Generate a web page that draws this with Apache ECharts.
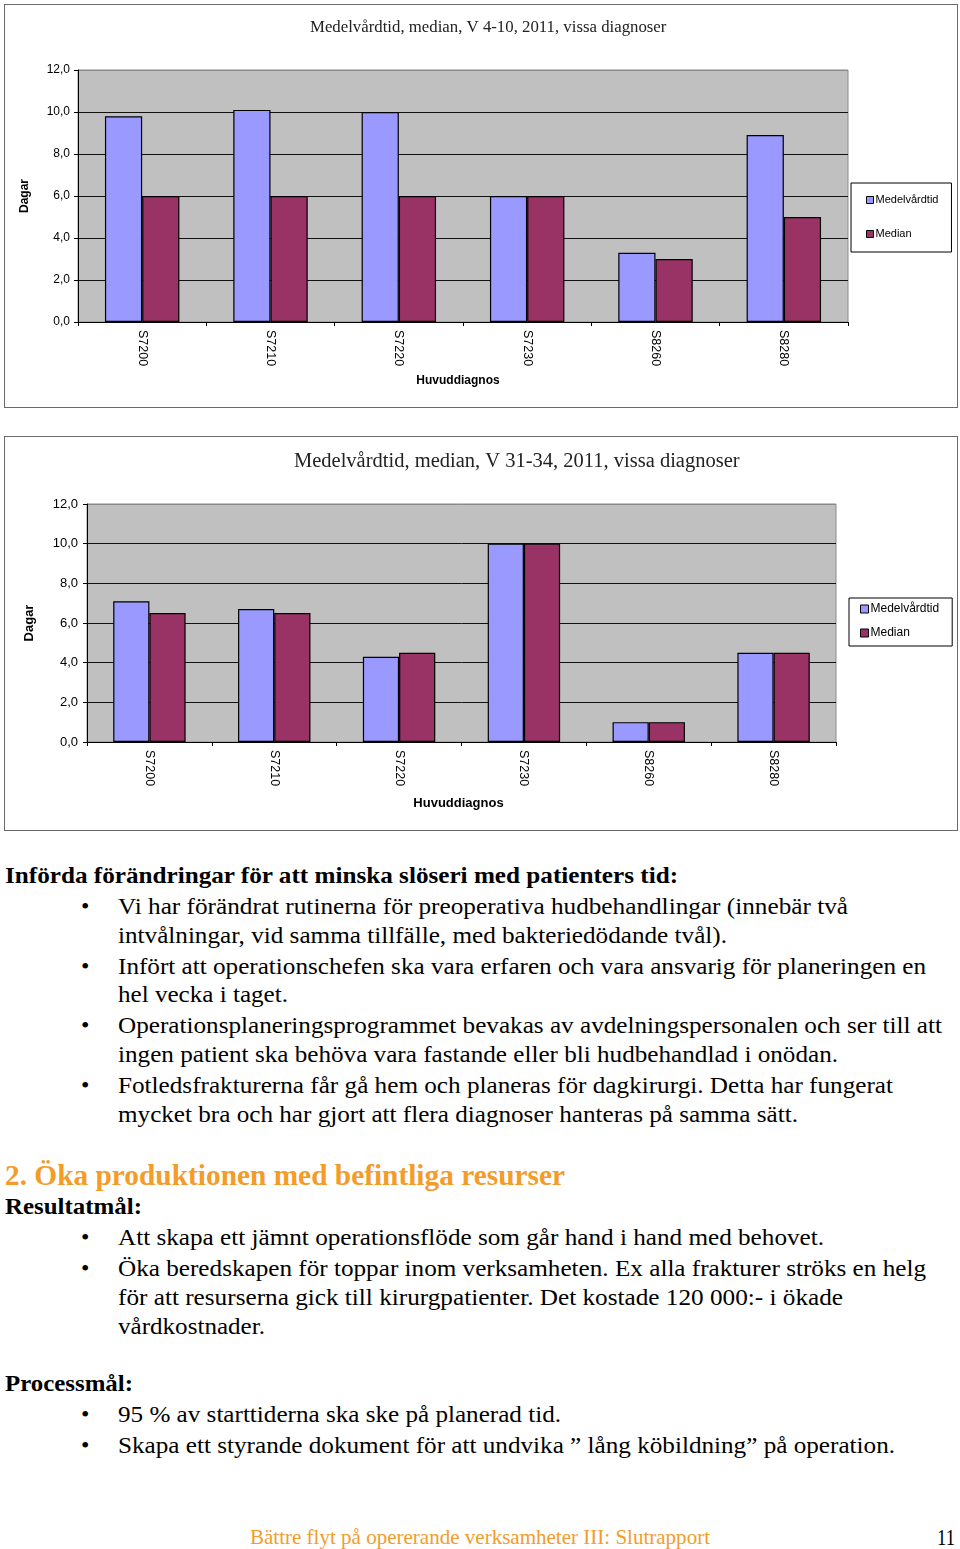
<!DOCTYPE html>
<html><head><meta charset="utf-8">
<script src="https://cdn.jsdelivr.net/npm/echarts@6/dist/echarts.min.js"></script>
<style>
html,body{margin:0;padding:0;background:#fff;}
body{width:960px;height:1549px;position:relative;overflow:hidden;font-family:"Liberation Serif","Times New Roman",serif;}
.box{position:absolute;border:1px solid #6a6a6a;box-sizing:border-box;}
.chart{position:absolute;left:0;width:960px;}
.ln{position:absolute;white-space:nowrap;font-size:24px;line-height:30px;height:30px;transform-origin:0 50%;color:#000;}
.bul{position:absolute;font-size:24px;line-height:30px;height:30px;}
</style></head><body>
<div class="box" style="left:4px;top:4px;width:954px;height:404px;"></div>
<div class="box" style="left:4px;top:436px;width:954px;height:395px;"></div>
<div id="c1" class="chart" style="top:0;height:415px;"></div>
<div id="c2" class="chart" style="top:430px;height:410px;"></div>
<div id="txt"></div>
<script>
// ---- data ----
const categories = ['S7200','S7210','S7220','S7230','S8260','S8280'];
const seriesNames = ['Medelvårdtid','Median'];
const medel1 = [9.8, 10.1, 10.0, 6.0, 3.3, 8.9];
const median1 = [6.0, 6.0, 6.0, 6.0, 3.0, 5.0];
const medel2 = [7.1, 6.7, 4.3, 10.0, 1.0, 4.5];
const median2 = [6.5, 6.5, 4.5, 10.0, 1.0, 4.5];
const title1 = 'Medelvårdtid, median, V 4-10, 2011, vissa diagnoser';
const title2 = 'Medelvårdtid, median, V 31-34, 2011, vissa diagnoser';
const yName = 'Dagar';
const xName = 'Huvuddiagnos';

// ---- charts ----
function makeOption(c, medel, median) {
  return {
    animation: false,
    title: { text: c.title, left: c.titleLeft, top: c.titleTop,
      textStyle: { fontFamily: 'Liberation Serif', fontWeight: 'normal', fontSize: c.titleSize, color: '#222' } },
    legend: {
      orient: 'vertical', left: c.legLeft, top: c.legTop,
      padding: c.legPad, itemGap: c.legGap, itemWidth: c.legIcon, itemHeight: c.legIcon,
      backgroundColor: '#fff', borderColor: '#000', borderWidth: 1, icon: 'rect',
      itemStyle: { borderColor: '#000', borderWidth: 1 },
      textStyle: { fontFamily: 'Liberation Sans', fontSize: c.legFont, color: '#000', padding: [0,0,0,-3], lineHeight: 14 },
      data: seriesNames
    },
    grid: { left: c.gl, top: c.gt, right: c.gr, bottom: c.gb, show: true,
      backgroundColor: '#c0c0c0', borderColor: '#8a8a8a', borderWidth: 1 },
    xAxis: {
      type: 'category', data: categories, name: xName, nameLocation: 'middle', nameGap: c.xNameGap,
      nameTextStyle: { fontFamily: 'Liberation Sans', fontWeight: 'bold', fontSize: c.nameFont, color: '#000', padding: c.xNamePad },
      axisLine: { lineStyle: { color: '#000', width: 1 } },
      axisTick: { show: true, length: 4, lineStyle: { color: '#000' } },
      axisLabel: { rotate: -90, margin: 8, fontFamily: 'Liberation Sans', fontSize: c.xFont, color: '#000' },
      splitLine: { show: false }
    },
    yAxis: {
      type: 'value', min: 0, max: 12, interval: 2, name: yName, nameLocation: 'middle', nameGap: c.yNameGap,
      nameTextStyle: { fontFamily: 'Liberation Sans', fontWeight: 'bold', fontSize: c.nameFont, color: '#000' },
      axisLine: { show: true, lineStyle: { color: '#000', width: 1 } },
      axisTick: { show: true, length: 4, lineStyle: { color: '#000' } },
      axisLabel: { margin: c.yMargin, fontFamily: 'Liberation Sans', fontSize: c.yFont, color: '#000',
        formatter: v => v.toFixed(1).replace('.', ',') },
      splitLine: { show: true, lineStyle: { color: ['#000','#111','#111','#111','#111','#111','#8a8a8a'], width: 1 } }
    },
    series: [
      { name: seriesNames[0], type: 'bar', data: medel, barGap: '0%', barCategoryGap: '42%',
        itemStyle: { color: '#9999ff', borderColor: '#000', borderWidth: 1.2 } },
      { name: seriesNames[1], type: 'bar', data: median, barGap: '0%', barCategoryGap: '42%',
        itemStyle: { color: '#993366', borderColor: '#000', borderWidth: 1.2 } }
    ]
  };
}

const cfg1 = { title: title1, titleLeft: 305, titleTop: 14, titleSize: 16.8,
  legLeft: 851, legTop: 183, legPad: [10, 13, 11, 15], legGap: 20, legIcon: 7, legFont: 11,
  gl: 78, gt: 70, gr: 112, gb: 93, xNameGap: 53, xNamePad: [0, 10, 0, 0], yNameGap: 47,
  nameFont: 12, xFont: 12.5, yFont: 12, yMargin: 8 };
const cfg2 = { title: title2, titleLeft: 289, titleTop: 16, titleSize: 20.5,
  legLeft: 849, legTop: 168, legPad: [4, 13, 6, 11], legGap: 10, legIcon: 8, legFont: 12,
  gl: 87, gt: 74, gr: 124, gb: 98, xNameGap: 55, xNamePad: [0, 6, 0, 0], yNameGap: 51,
  nameFont: 13, xFont: 12.5, yFont: 13, yMargin: 9 };

echarts.init(document.getElementById('c1'), null, { renderer: 'canvas' }).setOption(makeOption(cfg1, medel1, median1));
echarts.init(document.getElementById('c2'), null, { renderer: 'canvas' }).setOption(makeOption(cfg2, medel2, median2));

// ---- text below ----
const lines = [
  // [text, centerY, left, right, style, bullet]
  ['Införda förändringar för att minska slöseri med patienters tid:', 875, 5, 678, 'b', 0],
  ['Vi har förändrat rutinerna för preoperativa hudbehandlingar (innebär två', 906, 118, 848, '', 1],
  ['intvålningar, vid samma tillfälle, med bakteriedödande tvål).', 935, 118, 727, '', 0],
  ['Infört att operationschefen ska vara erfaren och vara ansvarig för planeringen en', 966, 118, 926, '', 1],
  ['hel vecka i taget.', 994, 118, 288, '', 0],
  ['Operationsplaneringsprogrammet bevakas av avdelningspersonalen och ser till att', 1025, 118, 942, '', 1],
  ['ingen patient ska behöva vara fastande eller bli hudbehandlad i onödan.', 1054, 118, 838, '', 0],
  ['Fotledsfrakturerna får gå hem och planeras för dagkirurgi. Detta har fungerat', 1085, 118, 893, '', 1],
  ['mycket bra och har gjort att flera diagnoser hanteras på samma sätt.', 1114, 118, 798, '', 0],
  ['2. Öka produktionen med befintliga resurser', 1175, 5, 565, 'o', 0],
  ['Resultatmål:', 1206, 5, 142, 'b', 0],
  ['Att skapa ett jämnt operationsflöde som går hand i hand med behovet.', 1237, 118, 824, '', 1],
  ['Öka beredskapen för toppar inom verksamheten. Ex alla frakturer ströks en helg', 1268, 118, 926, '', 1],
  ['för att resurserna gick till kirurgpatienter. Det kostade 120 000:- i ökade', 1297, 118, 843, '', 0],
  ['vårdkostnader.', 1326, 118, 265, '', 0],
  ['Processmål:', 1383, 5, 133, 'b', 0],
  ['95 % av starttiderna ska ske på planerad tid.', 1414, 118, 561, '', 1],
  ['Skapa ett styrande dokument för att undvika ” lång köbildning” på operation.', 1445, 118, 895, '', 1],
  ['Bättre flyt på opererande verksamheter III: Slutrapport', 1537, 250, 710, 'f', 0],
  ['11', 1537, 937, 955, '', 0]
];
const txt = document.getElementById('txt');
lines.forEach(l => {
  const d = document.createElement('div');
  d.className = 'ln';
  d.textContent = l[0];
  d.style.left = l[2] + 'px';
  d.style.top = (l[1] - 15) + 'px';
  if (l[4] === 'b') { d.style.fontWeight = 'bold'; }
  if (l[4] === 'o') { d.style.fontWeight = 'bold'; d.style.color = '#f39c2a'; d.style.fontSize = '29px'; }
  if (l[4] === 'f') { d.style.color = '#f39c2a'; d.style.fontSize = '22px'; }
  txt.appendChild(d);
  const w = d.getBoundingClientRect().width;
  d.style.transform = 'scaleX(' + ((l[3] - l[2]) / w).toFixed(4) + ')';
  if (l[5]) {
    const b = document.createElement('div');
    b.className = 'bul';
    b.textContent = '•';
    b.style.left = '81px';
    b.style.top = (l[1] - 15) + 'px';
    txt.appendChild(b);
  }
});
</script>
</body></html>
